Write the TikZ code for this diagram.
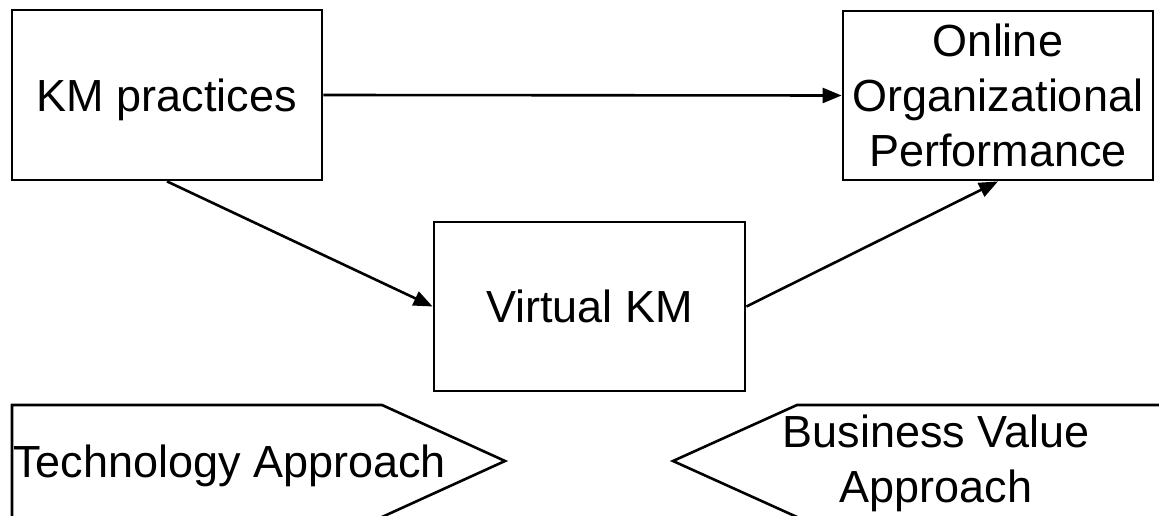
\documentclass[tikz,border=0pt]{standalone}
\usepackage{fontspec}
\setmainfont{Liberation Sans}
\usetikzlibrary{arrows.meta}
\begin{document}
\begin{tikzpicture}[x=1pt,y=-1pt,
  every node/.style={font=\fontsize{45}{55}\selectfont, inner sep=0pt},
  boxnode/.style={draw, line width=2.8pt, align=center},
  arr/.style={line width=2.6pt, -{Triangle[length=19pt,width=15pt]}},
  shapeline/.style={line width=2.6pt, line join=miter}]
\useasboundingbox (0,0) rectangle (1159,516);
\clip (0,0) rectangle (1159,516);
\fill[white] (0,0) rectangle (1159,516);
\node[boxnode, minimum width=310pt, minimum height=170pt, text depth=0pt] (km) at (167,95) {KM practices};
\node[boxnode, minimum width=310pt, minimum height=169pt] (online) at (998,95.5) {Online\\Organizational\\Performance};
\node[boxnode, minimum width=311pt, minimum height=169pt] (vkm) at (589.5,306.5) {Virtual KM};
\draw[arr] (km.east) -- (online.west);
\draw[arr] (km.south) -- (vkm.west);
\draw[arr] (vkm.east) -- (online.south);
% pentagon shapes
\draw[shapeline] (12,530) -- (12,405) -- (382,405) -- (505,461) -- (382,517) -- (370,522);
\draw[shapeline] (1175,405) -- (797,405) -- (673,461) -- (797,517) -- (810,523);
\node[anchor=base west] (tech) at (13,477) {Technology Approach};
\node[align=center] (bva) at (936,463) {Business Value\\Approach};
\end{tikzpicture}
\end{document}
